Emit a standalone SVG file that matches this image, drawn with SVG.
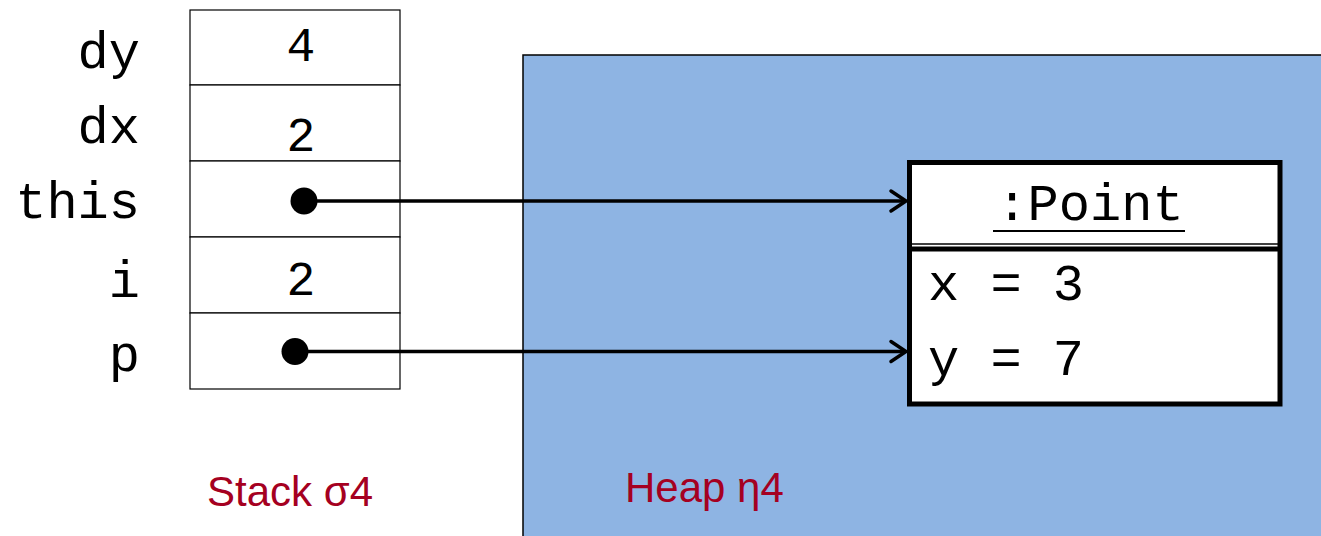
<svg xmlns="http://www.w3.org/2000/svg" width="1321" height="536" viewBox="0 0 1321 536">
<defs>
<style>
.mono{font-family:"Liberation Mono","Courier New",monospace;fill:#000}
.lbl{font-size:52px;text-anchor:end}
.val{font-size:48px;text-anchor:middle}
.obj{font-size:52px}
.cap{font-family:"Liberation Sans",Arial,sans-serif;font-size:42px;fill:#A50021}
.cell{fill:#fff;stroke:#000;stroke-width:1.2}
.conn{stroke:#000;stroke-width:3.5;fill:none}
.head{stroke:#000;stroke-width:3.5;fill:none;stroke-linecap:round;stroke-linejoin:miter}
</style>
</defs>
<rect width="1321" height="536" fill="#fff"/>
<g id="heap">
<rect x="523" y="55" width="810" height="500" fill="#8EB4E3" stroke="#000" stroke-width="1.5"/>
<text class="cap" x="625" y="502">Heap η4</text>
</g>
<g id="stack">
<rect class="cell" x="190" y="10" width="210" height="75"/>
<rect class="cell" x="190" y="85" width="210" height="76"/>
<rect class="cell" x="190" y="161" width="210" height="76"/>
<rect class="cell" x="190" y="237" width="210" height="76"/>
<rect class="cell" x="190" y="313" width="210" height="76"/>
<text class="mono lbl" x="140" y="68">dy</text>
<text class="mono lbl" x="140" y="143">dx</text>
<text class="mono lbl" x="140" y="218">this</text>
<text class="mono lbl" x="140" y="297">i</text>
<text class="mono lbl" x="140" y="371">p</text>
<text class="mono val" x="301" y="61">4</text>
<text class="mono val" x="301" y="151">2</text>
<text class="mono val" x="301" y="295">2</text>
<circle cx="304" cy="201" r="13.5" fill="#000"/>
<circle cx="295" cy="351.5" r="13.5" fill="#000"/>
<text class="cap" x="207" y="506">Stack σ4</text>
</g>
<g id="point">
<rect x="909.5" y="162.5" width="370.5" height="241.5" fill="#fff" stroke="#000" stroke-width="5"/>
<line x1="909.5" y1="244" x2="1280" y2="244" stroke="#000" stroke-width="1.5"/>
<line x1="909.5" y1="249" x2="1280" y2="249" stroke="#000" stroke-width="5"/>
<text class="mono obj" x="1090" y="220" text-anchor="middle">:Point</text>
<line x1="993" y1="231" x2="1185" y2="231" stroke="#000" stroke-width="2"/>
<text class="mono obj" x="928" y="300">x = 3</text>
<text class="mono obj" x="928" y="375">y = 7</text>
</g>
<g id="connectors">
<line class="conn" x1="304" y1="201" x2="905" y2="201"/>
<polyline class="head" points="891,191 906,201 891,211"/>
<line class="conn" x1="295" y1="351.5" x2="905" y2="351.5"/>
<polyline class="head" points="891,341.5 906,351.5 891,361.5"/>
</g>
</svg>
